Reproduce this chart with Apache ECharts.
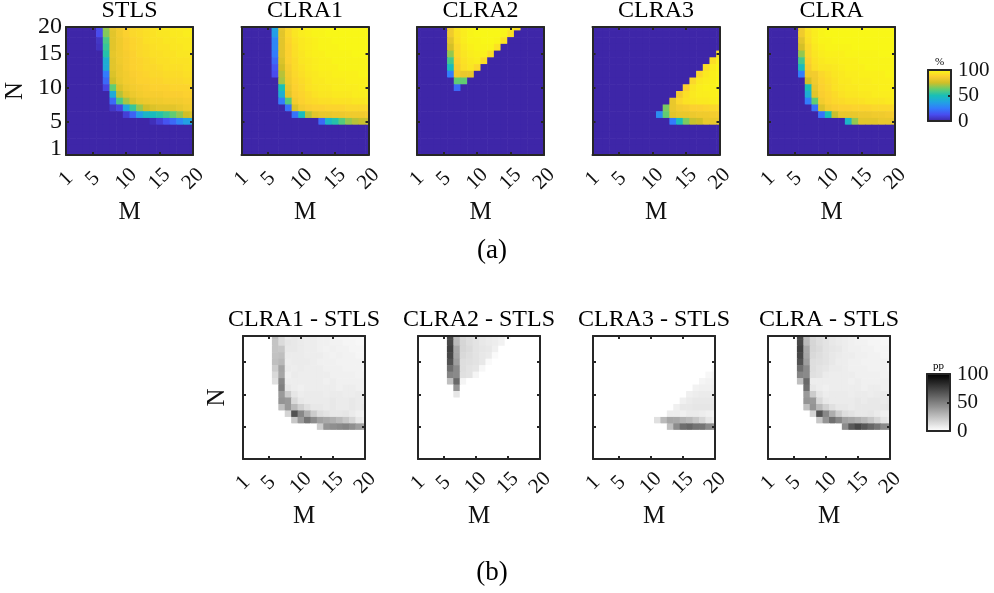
<!DOCTYPE html>
<html>
<head>
<meta charset="utf-8">
<script src="https://cdn.jsdelivr.net/npm/echarts@6/dist/echarts.min.js"></script>
<style>
  html, body { margin: 0; padding: 0; background: #fff; }
  #chart { width: 994px; height: 593px; }
</style>
</head>
<body>
<div id="chart"></div>
<script>
// success rate in %, rows go N = 20 (top) down to N = 1, columns M = 1..20
const stls = [
  [0,0,0,0,0,12,68,82,85,88,90,91,92,93,94,95,95,96,96,97],
  [0,0,0,0,0,12,66,80,85,88,90,91,92,93,94,94,95,95,96,96],
  [0,0,0,0,0,5,58,80,84,87,89,90,92,93,93,94,94,95,95,95],
  [0,0,0,0,0,4,55,80,84,87,89,90,91,92,93,93,94,94,95,95],
  [0,0,0,0,0,0,52,81,84,86,88,90,91,92,92,93,93,94,94,94],
  [0,0,0,0,0,0,42,80,84,86,88,89,90,91,92,92,93,93,93,94],
  [0,0,0,0,0,0,40,80,83,86,88,89,90,90,91,92,92,92,93,93],
  [0,0,0,0,0,0,25,78,83,85,87,88,89,90,90,91,91,91,92,92],
  [0,0,0,0,0,0,20,75,82,85,86,88,88,89,89,90,90,90,91,91],
  [0,0,0,0,0,0,10,62,78,83,85,86,87,88,88,88,89,89,89,90],
  [0,0,0,0,0,0,0,40,72,80,83,85,86,86,86,87,87,87,88,88],
  [0,0,0,0,0,0,0,20,58,70,78,82,83,84,84,85,85,85,86,86],
  [0,0,0,0,0,0,0,5,10,38,55,68,75,78,80,80,80,82,84,85],
  [0,0,0,0,0,0,0,0,0,8,18,35,45,48,52,56,62,68,75,78],
  [0,0,0,0,0,0,0,0,0,0,0,0,0,3,8,14,20,28,36,38],
  [0,0,0,0,0,0,0,0,0,0,0,0,0,0,0,0,0,0,0,0],
  [0,0,0,0,0,0,0,0,0,0,0,0,0,0,0,0,0,0,0,0],
  [0,0,0,0,0,0,0,0,0,0,0,0,0,0,0,0,0,0,0,0],
  [0,0,0,0,0,0,0,0,0,0,0,0,0,0,0,0,0,0,0,0],
  [0,0,0,0,0,0,0,0,0,0,0,0,0,0,0,0,0,0,0,0]
];
const clra1 = [
  [0,0,0,0,0,38,82,90,94,96,97,98,98,99,99,99,99,99,99,99],
  [0,0,0,0,0,35,80,90,94,96,97,98,98,99,99,99,99,99,99,99],
  [0,0,0,0,0,28,80,89,93,95,96,97,98,98,99,99,99,99,99,99],
  [0,0,0,0,0,28,80,88,92,95,96,97,98,98,98,99,99,99,99,99],
  [0,0,0,0,0,25,80,88,92,94,96,97,97,98,98,98,98,99,99,99],
  [0,0,0,0,0,20,78,88,91,94,95,96,97,97,98,98,98,98,98,98],
  [0,0,0,0,0,15,75,86,91,93,95,96,97,97,97,98,98,98,98,98],
  [0,0,0,0,0,12,72,85,90,92,94,95,96,96,97,97,97,97,98,98],
  [0,0,0,0,0,0,70,84,89,91,93,95,95,96,96,96,97,97,97,97],
  [0,0,0,0,0,0,50,82,88,90,93,94,95,95,96,96,96,96,97,97],
  [0,0,0,0,0,0,42,80,87,89,91,93,94,94,95,95,95,96,96,96],
  [0,0,0,0,0,0,25,60,85,88,90,91,92,92,93,93,93,94,94,95],
  [0,0,0,0,0,0,0,22,78,85,87,88,88,89,89,89,90,90,90,90],
  [0,0,0,0,0,0,0,0,22,48,72,80,82,82,83,83,84,84,84,85],
  [0,0,0,0,0,0,0,0,0,0,0,0,20,45,52,60,68,72,74,74],
  [0,0,0,0,0,0,0,0,0,0,0,0,0,0,0,0,0,0,0,0],
  [0,0,0,0,0,0,0,0,0,0,0,0,0,0,0,0,0,0,0,0],
  [0,0,0,0,0,0,0,0,0,0,0,0,0,0,0,0,0,0,0,0],
  [0,0,0,0,0,0,0,0,0,0,0,0,0,0,0,0,0,0,0,0],
  [0,0,0,0,0,0,0,0,0,0,0,0,0,0,0,0,0,0,0,0]
];
const clra2 = [
  [0,0,0,0,0,84,94,97,98,99,99,99,99,99,97,92,0,0,0,0],
  [0,0,0,0,0,84,93,96,98,99,99,99,99,98,93,0,0,0,0,0],
  [0,0,0,0,0,80,92,96,98,98,99,99,98,93,0,0,0,0,0,0],
  [0,0,0,0,0,76,90,95,97,98,98,98,93,0,0,0,0,0,0,0],
  [0,0,0,0,0,68,90,94,96,97,97,92,0,0,0,0,0,0,0,0],
  [0,0,0,0,0,57,88,93,95,96,91,0,0,0,0,0,0,0,0,0],
  [0,0,0,0,0,48,86,92,94,90,0,0,0,0,0,0,0,0,0,0],
  [0,0,0,0,0,25,84,82,82,0,0,0,0,0,0,0,0,0,0,0],
  [0,0,0,0,0,0,62,62,0,0,0,0,0,0,0,0,0,0,0,0],
  [0,0,0,0,0,0,20,0,0,0,0,0,0,0,0,0,0,0,0,0],
  [0,0,0,0,0,0,0,0,0,0,0,0,0,0,0,0,0,0,0,0],
  [0,0,0,0,0,0,0,0,0,0,0,0,0,0,0,0,0,0,0,0],
  [0,0,0,0,0,0,0,0,0,0,0,0,0,0,0,0,0,0,0,0],
  [0,0,0,0,0,0,0,0,0,0,0,0,0,0,0,0,0,0,0,0],
  [0,0,0,0,0,0,0,0,0,0,0,0,0,0,0,0,0,0,0,0],
  [0,0,0,0,0,0,0,0,0,0,0,0,0,0,0,0,0,0,0,0],
  [0,0,0,0,0,0,0,0,0,0,0,0,0,0,0,0,0,0,0,0],
  [0,0,0,0,0,0,0,0,0,0,0,0,0,0,0,0,0,0,0,0],
  [0,0,0,0,0,0,0,0,0,0,0,0,0,0,0,0,0,0,0,0],
  [0,0,0,0,0,0,0,0,0,0,0,0,0,0,0,0,0,0,0,0]
];
const clra3 = [
  [0,0,0,0,0,0,0,0,0,0,0,0,0,0,0,0,0,0,0,0],
  [0,0,0,0,0,0,0,0,0,0,0,0,0,0,0,0,0,0,0,0],
  [0,0,0,0,0,0,0,0,0,0,0,0,0,0,0,0,0,0,0,0],
  [0,0,0,0,0,0,0,0,0,0,0,0,0,0,0,0,0,0,0,0],
  [0,0,0,0,0,0,0,0,0,0,0,0,0,0,0,0,0,0,0,92],
  [0,0,0,0,0,0,0,0,0,0,0,0,0,0,0,0,0,0,92,97],
  [0,0,0,0,0,0,0,0,0,0,0,0,0,0,0,0,0,92,96,98],
  [0,0,0,0,0,0,0,0,0,0,0,0,0,0,0,0,90,95,97,98],
  [0,0,0,0,0,0,0,0,0,0,0,0,0,0,0,90,95,96,97,98],
  [0,0,0,0,0,0,0,0,0,0,0,0,0,0,88,94,96,97,97,98],
  [0,0,0,0,0,0,0,0,0,0,0,0,0,85,92,95,96,96,97,97],
  [0,0,0,0,0,0,0,0,0,0,0,0,82,90,93,94,95,95,96,96],
  [0,0,0,0,0,0,0,0,0,0,0,65,82,85,86,88,88,89,90,90],
  [0,0,0,0,0,0,0,0,0,0,30,62,80,82,82,83,84,84,85,85],
  [0,0,0,0,0,0,0,0,0,0,0,0,25,48,65,74,75,82,82,82],
  [0,0,0,0,0,0,0,0,0,0,0,0,0,0,0,0,0,0,0,0],
  [0,0,0,0,0,0,0,0,0,0,0,0,0,0,0,0,0,0,0,0],
  [0,0,0,0,0,0,0,0,0,0,0,0,0,0,0,0,0,0,0,0],
  [0,0,0,0,0,0,0,0,0,0,0,0,0,0,0,0,0,0,0,0],
  [0,0,0,0,0,0,0,0,0,0,0,0,0,0,0,0,0,0,0,0]
];
const clra = [
  [0,0,0,0,0,84,94,97,98,99,99,99,99,99,99,99,99,99,99,99],
  [0,0,0,0,0,84,93,96,98,99,99,99,99,99,99,99,99,99,99,99],
  [0,0,0,0,0,80,92,96,98,98,99,99,99,99,99,99,99,99,99,99],
  [0,0,0,0,0,76,90,95,97,98,98,98,98,99,99,99,99,99,99,99],
  [0,0,0,0,0,68,90,94,96,97,97,97,98,98,98,98,98,99,99,99],
  [0,0,0,0,0,57,88,93,95,96,96,97,97,97,98,98,98,98,98,98],
  [0,0,0,0,0,48,86,92,94,94,95,96,97,97,97,98,98,98,98,98],
  [0,0,0,0,0,25,84,85,90,92,94,95,96,96,97,97,97,97,98,98],
  [0,0,0,0,0,0,76,84,89,91,93,95,95,96,96,96,97,97,97,97],
  [0,0,0,0,0,0,50,82,88,90,93,94,95,95,96,96,96,97,97,97],
  [0,0,0,0,0,0,42,80,87,89,91,93,94,94,95,95,96,96,96,97],
  [0,0,0,0,0,0,25,62,85,88,90,91,92,92,93,94,94,94,95,96],
  [0,0,0,0,0,0,0,22,78,85,87,88,88,89,89,89,90,90,90,91],
  [0,0,0,0,0,0,0,0,22,50,74,82,82,82,83,83,84,84,85,86],
  [0,0,0,0,0,0,0,0,0,0,0,0,45,68,80,80,80,82,82,82],
  [0,0,0,0,0,0,0,0,0,0,0,0,0,0,0,0,0,0,0,0],
  [0,0,0,0,0,0,0,0,0,0,0,0,0,0,0,0,0,0,0,0],
  [0,0,0,0,0,0,0,0,0,0,0,0,0,0,0,0,0,0,0,0],
  [0,0,0,0,0,0,0,0,0,0,0,0,0,0,0,0,0,0,0,0],
  [0,0,0,0,0,0,0,0,0,0,0,0,0,0,0,0,0,0,0,0]
];

const titlesA = ['STLS', 'CLRA1', 'CLRA2', 'CLRA3', 'CLRA'];
const titlesB = ['CLRA1 - STLS', 'CLRA2 - STLS', 'CLRA3 - STLS', 'CLRA - STLS'];
const tickLabels = [1, 5, 10, 15, 20];
const barLabels = [0, 50, 100];

const FONT = '"Liberation Serif", "DejaVu Serif", serif';
const INK = '#262626';
const parula = ['#3e26a8', '#484df0', '#327cfc', '#20a5e1', '#19bfb6', '#64cd6f', '#d1bf27', '#fccf30', '#f9fb15'];
const greys = ['#ffffff', '#000000'];

// rows -> [M, N, value]
function toCells(rows) {
  const out = [];
  rows.forEach((row, i) => {
    const n = 20 - i;
    row.forEach((v, j) => out.push([j + 1, n, v]));
  });
  return out;
}
// percentage-point gain over STLS, negative shown as 0
function gainRows(rows) {
  return rows.map((row, i) => row.map((v, j) => Math.max(0, v - stls[i][j])));
}

function renderCell(params, api) {
  const cs = params.coordSys;
  const m = api.value(0), n = api.value(1);
  const a = api.coord([m - 0.5, n + 0.5]);
  const b = api.coord([m + 0.5, n - 0.5]);
  const x0 = Math.max(cs.x, a[0]), x1 = Math.min(cs.x + cs.width, b[0] + 0.6);
  const y0 = Math.max(cs.y, a[1]), y1 = Math.min(cs.y + cs.height, b[1] + 0.6);
  return {
    type: 'rect',
    shape: { x: x0, y: y0, width: x1 - x0, height: y1 - y0 },
    style: { fill: api.visual('color') }
  };
}

const grids = [], xAxes = [], yAxes = [], series = [], titles = [];
const line = { color: INK, width: 2 };
const tick = { color: INK, width: 2 };
const yTickPos = [2, 6, 11, 16, 20]; // where the N labels sit in the original

function addPanel(left, top, w, h, rows, title, showY, showN, nGap) {
  const g = grids.length;
  grids.push({ left: left, top: top, width: w, height: h });
  xAxes.push({
    gridIndex: g, type: 'value', min: 1, max: 20, position: 'bottom', z: 10,
    axisLine: { onZero: false, lineStyle: line },
    axisTick: { inside: true, length: 3, customValues: [5, 10, 15], lineStyle: tick },
    splitLine: { show: false },
    axisLabel: {
      customValues: tickLabels, rotate: 45, align: 'center', verticalAlign: 'middle',
      margin: 24, fontSize: 21, color: '#111', fontFamily: FONT
    },
    name: 'M', nameLocation: 'middle', nameGap: 57,
    nameTextStyle: { fontSize: 25, color: '#111', fontFamily: FONT, verticalAlign: 'middle' }
  });
  xAxes.push({
    gridIndex: g, type: 'value', min: 1, max: 20, position: 'top', z: 10,
    axisLine: { onZero: false, lineStyle: line },
    axisTick: { inside: true, length: 3, customValues: [5, 10, 15], lineStyle: tick },
    axisLabel: { show: false }, splitLine: { show: false }
  });
  yAxes.push({
    gridIndex: g, type: 'value', min: 1, max: 20, position: 'left', z: 10,
    axisLine: { onZero: false, lineStyle: line },
    axisTick: { inside: true, length: 3, customValues: [6, 11, 16], lineStyle: tick },
    splitLine: { show: false },
    axisLabel: {
      show: showY, customValues: yTickPos, margin: 4, fontSize: 24, color: '#111', fontFamily: FONT,
      formatter: v => String(tickLabels[yTickPos.indexOf(v)])
    },
    name: showN ? 'N' : '', nameLocation: 'middle', nameRotate: 90, nameGap: nGap,
    nameTextStyle: { fontSize: 25, color: '#111', fontFamily: FONT }
  });
  yAxes.push({
    gridIndex: g, type: 'value', min: 1, max: 20, position: 'right', z: 10,
    axisLine: { onZero: false, lineStyle: line },
    axisTick: { inside: true, length: 3, customValues: [6, 11, 16], lineStyle: tick },
    axisLabel: { show: false }, splitLine: { show: false }
  });
  series.push({
    type: 'custom', coordinateSystem: 'cartesian2d',
    xAxisIndex: 2 * g, yAxisIndex: 2 * g,
    encode: { x: 0, y: 1 },
    data: toCells(rows),
    renderItem: renderCell,
    silent: true
  });
  titles.push({
    text: title, left: left + w / 2, top: top - 28, textAlign: 'center', padding: 0,
    textStyle: { fontSize: 24, fontWeight: 'normal', color: '#000', fontFamily: FONT }
  });
}

function addColorbar(left, top, w, h, unit) {
  const g = grids.length;
  grids.push({ left: left, top: top, width: w, height: h });
  [['bottom'], ['top']].forEach(p => xAxes.push({
    gridIndex: g, type: 'value', min: 0, max: 1, position: p[0], z: 10,
    axisLine: { onZero: false, lineStyle: line }, axisTick: { show: false },
    axisLabel: { show: false }, splitLine: { show: false }
  }));
  yAxes.push({
    gridIndex: g, type: 'value', min: 0, max: 100, position: 'left', z: 10,
    axisLine: { onZero: false, lineStyle: line }, axisTick: { show: false },
    axisLabel: { show: false }, splitLine: { show: false }
  });
  yAxes.push({
    gridIndex: g, type: 'value', min: 0, max: 100, position: 'right', z: 10,
    axisLine: { onZero: false, lineStyle: line },
    axisTick: { inside: true, length: 3, customValues: [50], lineStyle: tick },
    axisLabel: { customValues: barLabels, margin: 7, fontSize: 21, color: '#111', fontFamily: FONT },
    splitLine: { show: false }
  });
  titles.push({
    text: unit, left: left + w / 2, top: top - 13, textAlign: 'center', padding: 0,
    textStyle: { fontSize: 11, fontWeight: 'normal', color: '#000', fontFamily: FONT }
  });
}

const leftsA = [66, 241.5, 417, 592.5, 768];
[stls, clra1, clra2, clra3, clra].forEach((rows, i) => {
  addPanel(leftsA[i], 27, 127, 128, rows, titlesA[i], i === 0, i === 0, 38);
});
const leftsB = [243, 418, 593, 768];
[clra1, clra2, clra3, clra].forEach((rows, i) => {
  addPanel(leftsB[i], 336, 122, 123, gainRows(rows), titlesB[i], false, i === 0, 13);
});
addColorbar(928, 70, 23, 51, '%');
addColorbar(927, 374, 23, 57, 'pp');

titles.push({
  text: '(a)', left: 492, top: 237, textAlign: 'center', padding: 0,
  textStyle: { fontSize: 27, fontWeight: 'normal', color: '#000', fontFamily: FONT }
});
titles.push({
  text: '(b)', left: 492, top: 559, textAlign: 'center', padding: 0,
  textStyle: { fontSize: 27, fontWeight: 'normal', color: '#000', fontFamily: FONT }
});

const chart = echarts.init(document.getElementById('chart'));
chart.setOption({
  animation: false,
  backgroundColor: '#fff',
  title: titles,
  grid: grids,
  xAxis: xAxes,
  yAxis: yAxes,
  visualMap: [
    {
      type: 'continuous', min: 0, max: 100, dimension: 2, seriesIndex: [0, 1, 2, 3, 4],
      inRange: { color: parula }, calculable: false, realtime: false,
      left: 928, top: 70, itemWidth: 23, itemHeight: 51, padding: 0, text: null, z: 4
    },
    {
      type: 'continuous', min: 0, max: 100, dimension: 2, seriesIndex: [5, 6, 7, 8],
      inRange: { color: greys }, calculable: false, realtime: false,
      left: 927, top: 374, itemWidth: 23, itemHeight: 57, padding: 0, text: null, z: 4
    }
  ],
  series: series
});
window.addEventListener('resize', chart.resize);
</script>
</body>
</html>
